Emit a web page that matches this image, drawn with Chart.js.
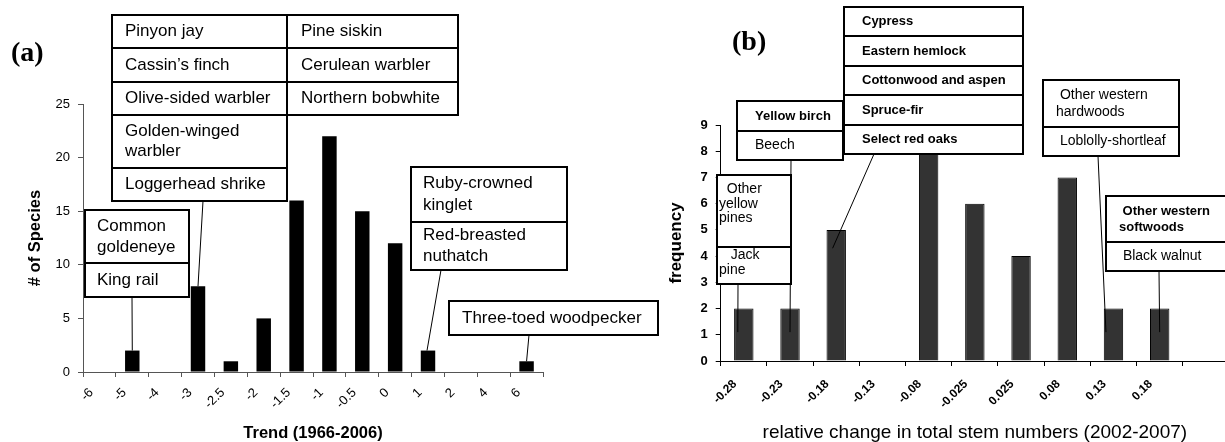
<!DOCTYPE html>
<html>
<head>
<meta charset="utf-8">
<script src="https://cdn.jsdelivr.net/npm/chart.js@4.4.0/dist/chart.umd.min.js"></script>
<style>
  html, body { margin: 0; padding: 0; background: #fff; overflow: hidden; }
  #wrap { position: relative; width: 1225px; height: 442px; overflow: hidden; }
  canvas { position: absolute; top: 0; }
  #trendChart { left: 0; }
  #stemChart { left: 640px; }
</style>
</head>
<body>
<div id="wrap">
  <canvas id="trendChart" width="665" height="442"></canvas>
  <canvas id="stemChart" width="600" height="442"></canvas>
</div>
<script>
// panel (a): bird species by population trend
const trendLabels = ['-6', '-5', '-4', '-3', '-2.5', '-2', '-1.5', '-1', '-0.5', '0', '1', '2', '4', '6'];
const trendCounts = [0, 2, 0, 8, 1, 5, 16, 22, 15, 12, 2, 0, 0, 1];

// panel (b): forest types by relative change in stem numbers
const stemLabels = ['-0.28', '-0.23', '-0.18', '-0.13', '-0.08', '-0.025', '0.025', '0.08', '0.13', '0.18', ''];
const stemCounts = [2, 2, 5, 0, 8, 6, 4, 7, 2, 2, 0];

Chart.defaults.font.family = "'Liberation Sans', Arial, sans-serif";
Chart.defaults.color = '#000';

const SANS = "'Liberation Sans', Arial, sans-serif";

// callout boxes + leader lines, drawn on top of the bars
const calloutPlugin = {
    id: 'callouts',
    afterDraw(chart, args, opts) {
        const ctx = chart.ctx;
        const xs = chart.scales.x;
        const ys = chart.scales.y;
        ctx.save();

        (opts.leaders || []).forEach(l => {
            ctx.beginPath();
            ctx.strokeStyle = '#000';
            ctx.lineWidth = 1;
            ctx.moveTo(l.from[0], l.from[1]);
            ctx.lineTo(xs.getPixelForValue(l.idx) + (l.dx || 0), ys.getPixelForValue(l.value));
            ctx.stroke();
        });

        (opts.boxes || []).forEach(b => {
            let total = b.rows.reduce((s, r) => s + r.h, 0);
            ctx.fillStyle = '#fff';
            ctx.fillRect(b.x, b.y, b.w, total);
            ctx.strokeStyle = '#000';
            ctx.lineWidth = 2;
            ctx.strokeRect(b.x, b.y, b.w, total);
            let top = b.y;
            b.rows.forEach((r, i) => {
                if (i > 0) {
                    ctx.beginPath();
                    ctx.moveTo(b.x, top);
                    ctx.lineTo(b.x + b.w, top);
                    ctx.stroke();
                }
                ctx.fillStyle = '#000';
                ctx.font = (r.bold ? 'bold ' : '') + r.size + 'px ' + SANS;
                ctx.textBaseline = 'middle';
                ctx.textAlign = 'left';
                const lh = r.lh || r.size * 1.25;
                let ty = top + r.h / 2 - (r.lines.length - 1) * lh / 2 + (r.dy || 0);
                r.lines.forEach(t => {
                    ctx.fillText(t, b.x + (r.pad != null ? r.pad : b.pad), ty);
                    ty += lh;
                });
                top += r.h;
            });
        });

        if (opts.panel) {
            ctx.fillStyle = '#000';
            ctx.font = 'bold 28px "Liberation Serif", "Times New Roman", serif';
            ctx.textBaseline = 'alphabetic';
            ctx.textAlign = 'left';
            ctx.fillText(opts.panel.text, opts.panel.x, opts.panel.y);
        }
        ctx.restore();
    }
};

function TrendChart() {
    const ctx = document.getElementById('trendChart').getContext('2d');

    const data = {
        labels: trendLabels,
        datasets: [
            {
                data: trendCounts,
                backgroundColor: '#000',
                borderWidth: 0,
                barPercentage: 0.44,
                categoryPercentage: 1
            }
        ]
    };

    const options = {
        responsive: false,
        animation: false,
        layout: { padding: { top: 104, right: 122, left: 0, bottom: 0 } },
        plugins: {
            legend: { display: false },
            tooltip: { enabled: false },
            callouts: {
                panel: { text: '(a)', x: 11, y: 61 },
                leaders: [
                    { from: [203, 201], idx: 3, dx: 0, value: 8 },
                    { from: [132, 297], idx: 1, dx: 0, value: 2 },
                    { from: [441, 270], idx: 10, dx: -1, value: 2 },
                    { from: [529, 335], idx: 13, dx: 0, value: 1 }
                ],
                boxes: [
                    { x: 112, y: 15, w: 175, pad: 13, rows: [
                        { h: 33, size: 17, lines: ['Pinyon jay'] },
                        { h: 34, size: 17, lines: ['Cassin\u2019s finch'] },
                        { h: 33, size: 17, lines: ['Olive-sided warbler'] },
                        { h: 53, size: 17, lh: 20, lines: ['Golden-winged', 'warbler'] },
                        { h: 33, size: 17, lines: ['Loggerhead shrike'] }
                    ] },
                    { x: 287, y: 15, w: 171, pad: 14, rows: [
                        { h: 33, size: 17, lines: ['Pine siskin'] },
                        { h: 34, size: 17, lines: ['Cerulean warbler'] },
                        { h: 33, size: 17, lines: ['Northern bobwhite'] }
                    ] },
                    { x: 85, y: 210, w: 104, pad: 12, rows: [
                        { h: 53, size: 17, lh: 21, lines: ['Common', 'goldeneye'] },
                        { h: 34, size: 17, lines: ['King rail'] }
                    ] },
                    { x: 411, y: 167, w: 156, pad: 12, rows: [
                        { h: 55, size: 17, lh: 22, lines: ['Ruby-crowned', 'kinglet'] },
                        { h: 48, size: 17, lh: 21, lines: ['Red-breasted', 'nuthatch'] }
                    ] },
                    { x: 449, y: 301, w: 209, pad: 13, rows: [
                        { h: 34, size: 17, lines: ['Three-toed woodpecker'] }
                    ] }
                ]
            }
        },
        scales: {
            x: {
                afterFit: s => { s.height = 70; },
                border: { display: true, color: '#555', width: 1 },
                grid: { display: true, drawOnChartArea: false, drawTicks: true, tickLength: 5, color: '#555' },
                ticks: {
                    autoSkip: false, minRotation: 45, maxRotation: 45,
                    labelOffset: -8, padding: 8,
                    font: { size: 13 }
                },
                title: {
                    display: true, text: 'Trend (1966-2006)',
                    font: { size: 16.5, weight: 'bold', lineHeight: 1 },
                    padding: { top: 0, bottom: 0 }
                }
            },
            y: {
                min: 0, max: 25,
                afterFit: s => { s.width = 83; },
                border: { display: true, color: '#555', width: 1 },
                grid: { display: true, drawOnChartArea: false, drawTicks: true, tickLength: 5, color: '#555' },
                ticks: { stepSize: 5, padding: 8, font: { size: 13 } },
                title: {
                    display: true, text: '# of Species',
                    font: { size: 16.5, weight: 'bold', lineHeight: 1 },
                    padding: { top: 27, bottom: 0 }
                }
            }
        }
    };

    new Chart(ctx, { type: 'bar', data: data, options: options, plugins: [calloutPlugin] });
}

function StemChart() {
    const ctx = document.getElementById('stemChart').getContext('2d');

    const data = {
        labels: stemLabels,
        datasets: [
            {
                data: stemCounts,
                backgroundColor: '#333',
                borderColor: '#000',
                borderWidth: 1,
                barPercentage: 0.42,
                categoryPercentage: 1
            }
        ]
    };

    const options = {
        responsive: false,
        animation: false,
        layout: { padding: { top: 125, right: 11, left: 0, bottom: 0 } },
        plugins: {
            legend: { display: false },
            tooltip: { enabled: false },
            callouts: {
                panel: { text: '(b)', x: 92, y: 50 },
                leaders: [
                    { from: [98, 284], idx: 0, dx: -6, value: 1.1 },
                    { from: [151, 160], idx: 1, dx: 0, value: 1.1 },
                    { from: [234, 154], idx: 2, dx: -3.6, value: 4.3 },
                    { from: [458, 156], idx: 8, dx: -7.5, value: 1.1 },
                    { from: [519, 271], idx: 9, dx: 0, value: 1.1 }
                ],
                boxes: [
                    { x: 97, y: 101, w: 106, pad: 18, rows: [
                        { h: 30, size: 13, bold: true, lines: ['Yellow birch'] },
                        { h: 29, size: 14, lines: ['Beech'] }
                    ] },
                    { x: 204, y: 7, w: 179, pad: 18, rows: [
                        { h: 29, size: 13, bold: true, lines: ['Cypress'] },
                        { h: 30, size: 13, bold: true, lines: ['Eastern hemlock'] },
                        { h: 29, size: 13, bold: true, lines: ['Cottonwood and aspen'] },
                        { h: 30, size: 13, bold: true, lines: ['Spruce-fir'] },
                        { h: 29, size: 13, bold: true, lines: ['Select red oaks'] }
                    ] },
                    { x: 77, y: 175, w: 74, pad: 2, rows: [
                        { h: 72, size: 14, lh: 14.5, dy: -7, lines: ['  Other', 'yellow', 'pines'] },
                        { h: 37, size: 14, lh: 15.5, dy: -3, lines: ['   Jack', 'pine'] }
                    ] },
                    { x: 403, y: 80, w: 136, pad: 13, rows: [
                        { h: 47, size: 14, lh: 17, lines: [' Other western', 'hardwoods'] },
                        { h: 29, size: 14, lines: [' Loblolly-shortleaf'] }
                    ] },
                    { x: 466, y: 196, w: 160, pad: 13, rows: [
                        { h: 46, size: 13, bold: true, lh: 16, lines: [' Other western', 'softwoods'] },
                        { h: 29, size: 14, lines: [' Black walnut'] }
                    ] }
                ]
            }
        },
        scales: {
            x: {
                afterFit: s => { s.height = 81; },
                border: { display: true, color: '#000', width: 1 },
                grid: { display: true, drawOnChartArea: false, drawTicks: true, tickLength: 5, color: '#000' },
                ticks: {
                    autoSkip: false, minRotation: 45, maxRotation: 45,
                    labelOffset: -9, padding: 11,
                    font: { size: 12, weight: 'bold' }
                },
                title: {
                    display: true, text: 'relative change in total stem numbers (2002-2007)',
                    font: { size: 19, lineHeight: 1 },
                    padding: { top: 0, bottom: 0 }
                }
            },
            y: {
                min: 0, max: 9,
                afterFit: s => { s.width = 80.7; },
                border: { display: true, color: '#000', width: 1 },
                grid: { display: true, drawOnChartArea: false, drawTicks: true, tickLength: 5, color: '#000' },
                ticks: { stepSize: 1, padding: 8, font: { size: 13, weight: 'bold' } },
                title: {
                    display: true, text: 'frequency',
                    font: { size: 17, weight: 'bold', lineHeight: 1 },
                    padding: { top: 27.5, bottom: 0 }
                }
            }
        }
    };

    new Chart(ctx, { type: 'bar', data: data, options: options, plugins: [calloutPlugin] });
}

TrendChart();
StemChart();
</script>
</body>
</html>
